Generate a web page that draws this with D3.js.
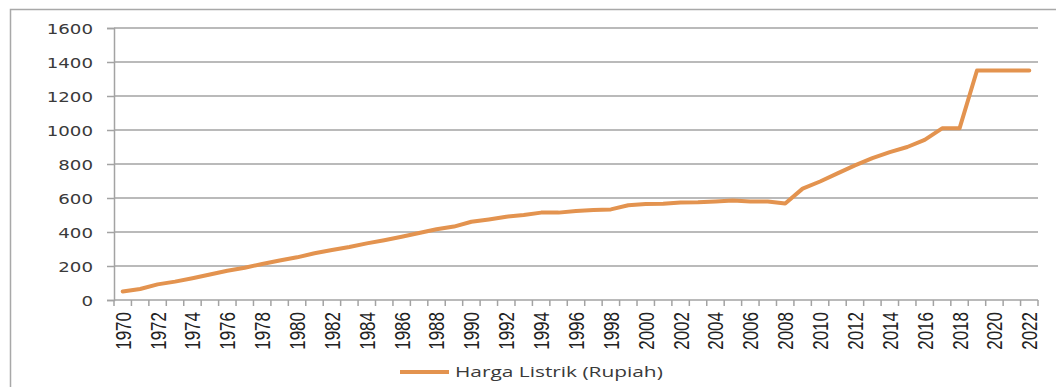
<!DOCTYPE html>
<html>
<head>
<meta charset="utf-8">
<script src="https://cdn.jsdelivr.net/npm/d3@7"></script>
<style>
  html, body { margin: 0; padding: 0; background: #fff; }
  svg { display: block; }
</style>
</head>
<body>
<svg id="chart" width="1056" height="387"></svg>
<script>
// Electricity price per year (Rupiah)
const years = d3.range(1970, 2023).map(String);
const hargaListrik = [
  50, 65, 92, 108, 128, 150, 172, 190, 212, 232,
  251, 275, 294, 312, 333, 352, 372, 394, 416, 432,
  460, 474, 490, 500, 514, 514, 523, 530, 533, 557,
  565, 566, 573, 575, 580, 585, 580, 580, 568, 655,
  697, 745, 792, 835, 870, 900, 942, 1010, 1010, 1350,
  1350, 1350, 1350
];
const yTicks = [0, 200, 400, 600, 800, 1000, 1200, 1400, 1600];
const xTickLabels = years.filter((d, i) => i % 2 === 0);
const seriesName = "Harga Listrik (Rupiah)";

const W = 1056, H = 387;
const plot = { left: 114, right: 1038, top: 28, bottom: 300 };
const lineColor = "#e3934f";
const gridColor = "#a3a3a3";
const textColor = "#3a3a3a";
const stretch = 1.3;

const svg = d3.select("#chart");

// outer frame (top and left edges)
svg.append("path")
  .attr("d", `M10.5,${H} V9.5 H${W}`)
  .attr("fill", "none")
  .attr("stroke", "#a8a8a8")
  .attr("stroke-width", 1.5);

const x = d3.scaleBand().domain(years).range([plot.left, plot.right]).paddingInner(0).paddingOuter(0);
const y = d3.scaleLinear().domain([0, 1600]).range([plot.bottom, plot.top]);

// horizontal gridlines
svg.append("g")
  .selectAll("line")
  .data(yTicks.filter(d => d > 0))
  .join("line")
  .attr("x1", plot.left).attr("x2", plot.right)
  .attr("y1", d => y(d)).attr("y2", d => y(d))
  .attr("stroke", gridColor)
  .attr("stroke-width", 1.5);

// y axis
const yAxis = svg.append("g")
  .attr("transform", `translate(${plot.left},0)`)
  .call(d3.axisLeft(y).tickValues(yTicks).tickSize(7).tickPadding(0).tickFormat(d3.format("d")));
yAxis.select(".domain").attr("stroke", gridColor).attr("stroke-width", 1.5);
yAxis.selectAll(".tick line").attr("stroke", gridColor).attr("stroke-width", 1.5);
yAxis.selectAll(".tick text").remove();
yAxis.selectAll(".tick").append("text")
  .attr("transform", `translate(-21,0) scale(${stretch},1)`)
  .attr("text-anchor", "end")
  .attr("dy", "0.36em")
  .attr("fill", textColor)
  .style("font-family", "'DejaVu Sans', sans-serif")
  .style("font-size", "14px")
  .text(d => d);

// x axis: ticks sit on category boundaries
const boundaries = years.map(d => x(d)).concat([plot.right]);
const xg = svg.append("g");
xg.append("line")
  .attr("x1", plot.left).attr("x2", plot.right)
  .attr("y1", plot.bottom).attr("y2", plot.bottom)
  .attr("stroke", gridColor).attr("stroke-width", 1.5);
xg.selectAll("line.tk")
  .data(boundaries)
  .join("line")
  .attr("class", "tk")
  .attr("x1", d => d).attr("x2", d => d)
  .attr("y1", plot.bottom).attr("y2", plot.bottom + 6)
  .attr("stroke", gridColor).attr("stroke-width", 1.5);
xg.selectAll("text")
  .data(xTickLabels)
  .join("text")
  .attr("transform", d => `translate(${x(d) + x.bandwidth() / 2},${plot.bottom + 12}) scale(${stretch},1) rotate(-90)`)
  .attr("text-anchor", "end")
  .attr("dy", "0.36em")
  .attr("fill", "#222")
  .style("font-family", "'Liberation Sans', Arial, sans-serif")
  .style("font-size", "17px")
  .text(d => d);

// series line
const line = d3.line()
  .x((d, i) => x(years[i]) + x.bandwidth() / 2)
  .y(d => y(d));
svg.append("path")
  .datum(hargaListrik)
  .attr("d", line)
  .attr("fill", "none")
  .attr("stroke", lineColor)
  .attr("stroke-width", 4)
  .attr("stroke-linejoin", "round")
  .attr("stroke-linecap", "round");

// legend
const lg = svg.append("g").attr("transform", "translate(400,372)");
lg.append("line")
  .attr("x1", 0).attr("x2", 49)
  .attr("stroke", lineColor).attr("stroke-width", 4);
const lt = lg.append("text")
  .attr("dy", "0.36em")
  .attr("fill", textColor)
  .style("font-family", "'Open Sans', sans-serif")
  .style("font-size", "15px")
  .text(seriesName);
const natural = lt.node().getComputedTextLength();
lt.attr("transform", `translate(55,0) scale(${208 / natural},1)`);
</script>
</body>
</html>
